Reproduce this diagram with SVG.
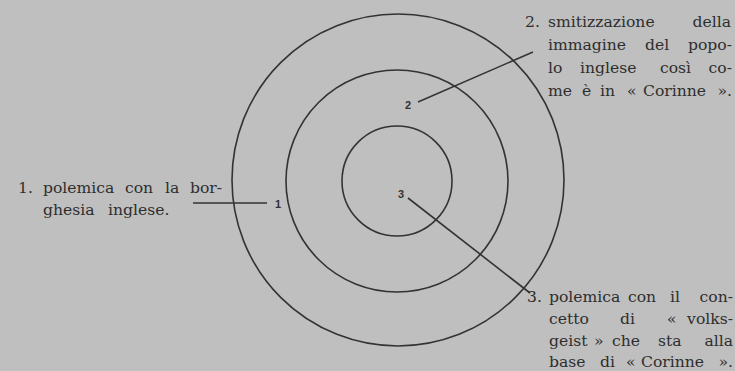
<svg xmlns="http://www.w3.org/2000/svg" width="735" height="371" viewBox="0 0 735 371">
<style>
.c{fill:none;stroke:#333;stroke-width:1.6}
.l{stroke:#333;stroke-width:1.6;fill:none}
.t{font-family:"DejaVu Serif",serif;font-size:15.6px;fill:#2e2e2e}
.e{text-anchor:end}
.n{font-family:"Liberation Sans",sans-serif;font-size:11px;font-weight:bold;fill:#333;text-anchor:middle}
</style>
<rect width="735" height="371" fill="#bfbfbf"/>
<g id="rings">
<circle class="c" cx="398" cy="180" r="166"/>
<circle class="c" cx="397" cy="181" r="111"/>
<circle class="c" cx="397" cy="181" r="55"/>
</g>
<g id="connectors">
<line class="l" x1="193" y1="203" x2="267" y2="203"/>
<line class="l" x1="418" y1="102" x2="533" y2="52"/>
<line class="l" x1="408" y1="198" x2="530" y2="293"/>
</g>
<g id="n1"><text class="n" x="278" y="208">1</text>
<text class="t" y="193"><tspan x="18">1.</tspan> <tspan x="43">polemica</tspan> <tspan x="125">con</tspan> <tspan x="165">la</tspan> <tspan class="e" x="222">bor-</tspan></text>
<text class="t" y="215"><tspan x="43">ghesia</tspan> <tspan x="108">inglese.</tspan></text></g>
<g id="n2"><text class="n" x="408" y="109">2</text>
<text class="t" y="27"><tspan x="525">2.</tspan> <tspan x="548">smitizzazione</tspan> <tspan class="e" x="731">della</tspan></text>
<text class="t" y="50"><tspan x="548">immagine</tspan> <tspan x="645">del</tspan> <tspan class="e" x="732">popo-</tspan></text>
<text class="t" y="73"><tspan x="548">lo</tspan> <tspan x="580">inglese</tspan> <tspan x="660">così</tspan> <tspan class="e" x="732">co-</tspan></text>
<text class="t" y="96"><tspan x="548">me</tspan> <tspan x="582">è</tspan> <tspan x="600">in</tspan> <tspan x="627">«</tspan> <tspan x="643">Corinne</tspan> <tspan class="e" x="732">».</tspan></text></g>
<g id="n3"><text class="n" x="401" y="198">3</text>
<text class="t" y="302"><tspan x="527">3.</tspan> <tspan x="549">polemica</tspan> <tspan x="628">con</tspan> <tspan x="670">il</tspan> <tspan class="e" x="733">con-</tspan></text>
<text class="t" y="324"><tspan x="549">cetto</tspan> <tspan x="620">di</tspan> <tspan x="667">«</tspan> <tspan class="e" x="733">volks-</tspan></text>
<text class="t" y="346"><tspan x="549">geist</tspan> <tspan x="594">»</tspan> <tspan x="612">che</tspan> <tspan x="658">sta</tspan> <tspan class="e" x="733">alla</tspan></text>
<text class="t" y="367"><tspan x="549">base</tspan> <tspan x="600">di</tspan> <tspan x="626">«</tspan> <tspan x="641">Corinne</tspan> <tspan class="e" x="733">».</tspan></text></g>
</svg>
